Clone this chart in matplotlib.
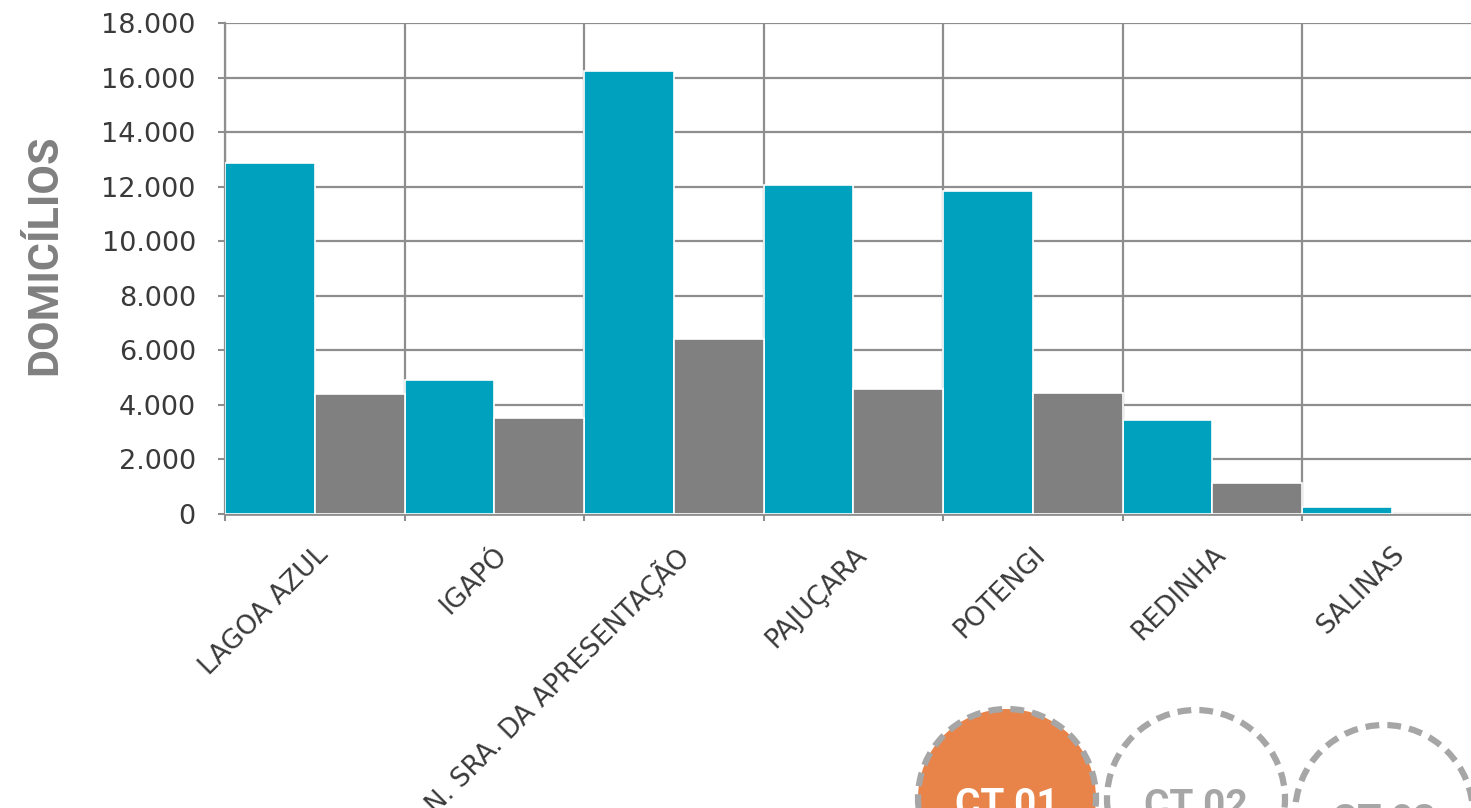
import matplotlib
matplotlib.use("Agg")
import matplotlib.pyplot as plt
import matplotlib.patches as patches
from matplotlib.ticker import FuncFormatter

bairros = ["LAGOA AZUL", "IGAPÓ", "N. SRA. DA APRESENTAÇÃO", "PAJUÇARA",
           "POTENGI", "REDINHA", "SALINAS"]
serie_azul = [12850, 4900, 16240, 12060, 11840, 3450, 260]
serie_cinza = [4400, 3520, 6420, 4580, 4440, 1140, 0]
yticks = list(range(0, 18001, 2000))
circulos = ["CT 01", "CT 02", "CT 03"]

AZUL = "#00a0bf"
CINZA = "#808080"
GRADE = "#8e8e8e"
TEXTO = "#3a3a3a"
W, H = 1471, 808

fig = plt.figure(figsize=(W / 100, H / 100), dpi=100)
# eixo vai um pouco alem da borda direita, como no original
ax = fig.add_axes([225 / W, (H - 514) / H, 7 * 179.5 / W, 491 / H])

n = len(bairros)
xs = list(range(n))
ax.bar([x + 0.25 for x in xs], serie_azul, width=0.5, color=AZUL,
       edgecolor="white", linewidth=1.2, zorder=3)
ax.bar([x + 0.75 for x in xs], serie_cinza, width=0.5, color=CINZA,
       edgecolor="white", linewidth=1.2, zorder=3)

ax.set_xlim(0, n)
ax.set_ylim(0, 18000)
ax.set_yticks(yticks)
ax.yaxis.set_major_formatter(FuncFormatter(lambda v, p: f"{int(v):,}".replace(",", ".")))

ax.set_xticks(range(n + 1))
ax.set_xticklabels([])
ax.set_xticks([x + 0.5 for x in xs], minor=True)
ax.set_xticklabels(bairros, minor=True, rotation=45, ha="right", va="top",
                   rotation_mode="anchor", fontsize=19, color=TEXTO)
ax.tick_params(axis="x", which="minor", length=0, pad=20)
ax.tick_params(axis="x", which="major", length=5, width=1.5, color=GRADE)
ax.tick_params(axis="y", length=5, width=1.5, color=GRADE, labelsize=19.5,
               labelcolor=TEXTO, pad=16)

ax.grid(True, which="major", color=GRADE, linewidth=1.6, zorder=0)
ax.set_axisbelow(True)
for s in ["top", "right"]:
    ax.spines[s].set_visible(False)
ax.spines["left"].set_color(GRADE)
ax.spines["left"].set_linewidth(1.6)
ax.spines["bottom"].set_color(GRADE)
ax.spines["bottom"].set_linewidth(2)

fig.text(45 / W, (H - 255) / H, "DOMICÍLIOS", rotation=90, ha="center",
         va="center", fontsize=31, fontweight="bold", color=CINZA,
         family=["Roboto", "DejaVu Sans"])

# circulos tracejados no rodape
centros = [(1007, 798), (1196, 799), (1384, 814)]
raio = 89
for i, (cx, cy) in enumerate(centros):
    face = "#e8844a" if i == 0 else "white"
    circ = patches.Ellipse((cx / W, (H - cy) / H), 2 * raio / W, 2 * raio / H,
                           transform=fig.transFigure, facecolor=face,
                           edgecolor="#a6a6a6", linewidth=4.5,
                           linestyle=(0, (2.2, 1.3)))
    fig.add_artist(circ)
    cor = "white" if i == 0 else "#a6a6a6"
    fig.text(cx / W, (H - cy + 11) / H, circulos[i], ha="center", va="top",
             fontsize=28, fontweight="bold", color=cor,
             family=["Roboto", "DejaVu Sans"])

fig.savefig("out.png", dpi=100)
